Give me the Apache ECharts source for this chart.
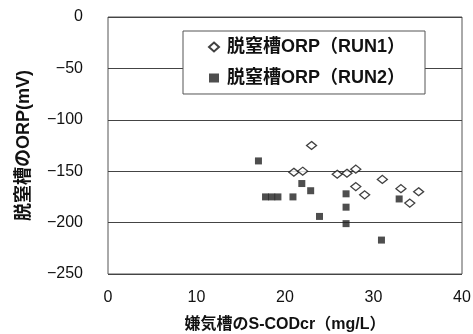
<!DOCTYPE html>
<html><head><meta charset="utf-8">
<script src="https://cdn.jsdelivr.net/npm/echarts@6/dist/echarts.min.js"></script>
<style>html,body{margin:0;padding:0;background:#fff}#c{width:473px;height:334px}</style>
</head><body><div id="c"></div>
<script>
var run1Name = '脱窒槽ORP（RUN1）';
var run2Name = '脱窒槽ORP（RUN2）';
var xName = '嫌気槽のS-CODcr（mg/L）';
var yName = '脱窒槽のORP(mV)';
var run1 = [[23.0,-125],[21.0,-151],[22.0,-150],[25.9,-153],[27.0,-152],[28.0,-148],[28.0,-165],[29.0,-173],[31.0,-158],[33.1,-167],[34.1,-181],[35.1,-170]];
var run2 = [[17.0,-140],[17.8,-175],[18.5,-175],[19.2,-175],[20.9,-175],[21.9,-162],[22.9,-169],[23.9,-194],[26.9,-172],[26.9,-185],[26.9,-201],[30.9,-217],[32.9,-177]];
var xMin = 0, xMax = 40, xStep = 10;
var yMin = -250, yMax = 0, yStep = 50;

var ff = '"Liberation Sans", Arial, "Noto Sans CJK JP", sans-serif';
var chart = echarts.init(document.getElementById('c'));
chart.setOption({
  animation: false,
  backgroundColor: '#fff',
  textStyle: {fontFamily: ff},
  grid: {left: 108, right: 11, top: 17, bottom: 60, show: true, borderColor: '#555', borderWidth: 1,
         containLabel: false, outerBoundsMode: 'none'},
  legend: {
    left: 183, top: 31, orient: 'vertical',
    padding: [7, 20, 7, 25], itemGap: 13,
    backgroundColor: '#fff', borderColor: '#555', borderWidth: 1,
    itemWidth: 10, itemHeight: 9,
    textStyle: {fontSize: 18, fontWeight: 'bold', color: '#111', fontFamily: ff, padding: [0, 0, 0, 3]},
    data: [run1Name, run2Name]
  },
  xAxis: {
    type: 'value', min: xMin, max: xMax, interval: xStep,
    name: xName, nameLocation: 'middle', nameGap: 43,
    nameTextStyle: {fontSize: 16, fontWeight: 'bold', color: '#111'},
    axisLine: {show: false}, axisTick: {show: false}, splitLine: {show: false},
    axisLabel: {fontSize: 16, color: '#111', margin: 16}
  },
  yAxis: {
    type: 'value', min: yMin, max: yMax, interval: yStep,
    name: yName, nameLocation: 'middle', nameGap: 75, nameRotate: 90,
    nameTextStyle: {fontSize: 18, fontWeight: 'bold', color: '#111'},
    axisLine: {show: false}, axisTick: {show: false},
    splitLine: {show: true, lineStyle: {color: '#444', width: 1}},
    axisLabel: {fontSize: 16, color: '#111', margin: 25,
      formatter: function (v) { return v < 0 ? '\u2212' + Math.abs(v) : String(v); }}
  },
  series: [
    {name: run1Name, type: 'scatter', data: run1, symbol: 'diamond', symbolSize: [10, 8],
     itemStyle: {color: '#fff', borderColor: '#111', borderWidth: 1.3}},
    {name: run2Name, type: 'scatter', data: run2, symbol: 'rect', symbolSize: 7,
     itemStyle: {color: '#222'}}
  ]
});
</script></body></html>
